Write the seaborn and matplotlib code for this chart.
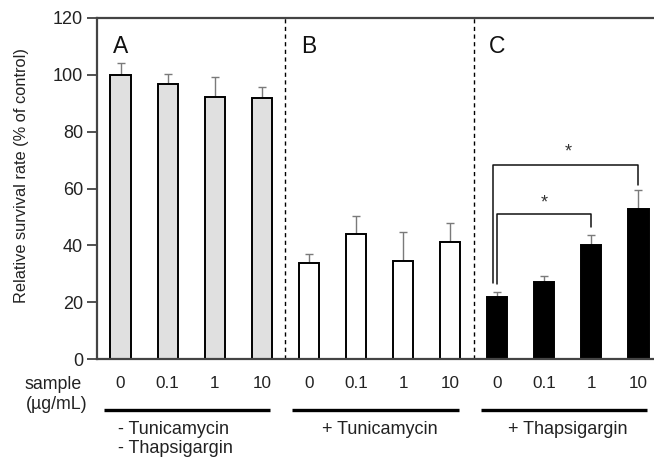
import pandas as pd
import numpy as np
import matplotlib
matplotlib.use("Agg")
import matplotlib.pyplot as plt
import seaborn as sns

# values
doses = ["0", "0.1", "1", "10"]
groups = ["A", "B", "C"]
group_labels = ["- Tunicamycin\n- Thapsigargin", "+ Tunicamycin", "+ Thapsigargin"]
means_a = [100.0, 96.6, 92.3, 91.8]
means_b = [33.7, 44.0, 34.5, 41.3]
means_c = [21.9, 27.2, 40.2, 52.7]
err_a = [4.0, 3.7, 6.9, 4.0]
err_b = [3.3, 6.3, 10.1, 6.7]
err_c = [1.8, 2.0, 3.4, 6.9]
fills = {"A": "#e0e0e0", "B": "white", "C": "black"}

df = pd.DataFrame({
    "id": [f"{g}{d}" for g in groups for d in doses],
    "group": [g for g in groups for _ in doses],
    "dose": doses * 3,
    "mean": means_a + means_b + means_c,
    "err": err_a + err_b + err_c,
})
df["pos"] = np.arange(len(df))

sns.set_style("white")
plt.rcParams["font.family"] = ["Liberation Sans", "DejaVu Sans"]
txt = "#222222"

fig = plt.figure(figsize=(6.54, 4.59), dpi=100)
ax = fig.add_axes([97 / 654, 100 / 459, 565 / 654, 341 / 459])

ax.errorbar(df["pos"], df["mean"], yerr=[np.zeros(len(df)), df["err"]],
            fmt="none", ecolor="#7a7a7a", elinewidth=1.0, capsize=3, capthick=1.0, zorder=0.5)
sns.barplot(data=df, x="id", y="mean", hue="group", palette=fills, dodge=False,
            width=0.43, edgecolor="black", linewidth=1.4, legend=False, ax=ax, zorder=2)

ax.set_xlim(-0.5, 11.5)
ax.set_ylim(0, 120)
ax.set_yticks(range(0, 121, 20))
ax.tick_params(axis="y", direction="out", length=7, width=1.2, color="#333333",
               labelsize=13, labelcolor=txt, left=True, pad=3)
ax.set_xticks([])
ax.set_xlabel("")
ax.set_ylabel("Relative survival rate (% of control)", fontsize=11.8, color=txt)
ax.yaxis.set_label_coords(-0.12, 0.537)
for side in ["left", "bottom", "top"]:
    ax.spines[side].set_color("#444444")
    ax.spines[side].set_linewidth(1.6)
ax.spines["right"].set_visible(False)

# group separators and panel letters
for xs in [3.5, 7.5]:
    ax.axvline(xs, color="black", linestyle=(0, (3, 2.5)), linewidth=1.0)
for i, g in enumerate(groups):
    ax.text(i * 4 - 0.17, 114, g, fontsize=16.5, ha="left", va="top", color="#111111")

# x labels below axis
tr = ax.get_xaxis_transform()
for p, d in zip(df["pos"], df["dose"]):
    ax.text(p, -0.073, d, transform=tr, ha="center", va="center", fontsize=12.3, color=txt,
            clip_on=False)
ax.text(-0.078, -0.076, "sample", transform=ax.transAxes, ha="center", va="center",
        fontsize=12.8, color=txt)
ax.text(-0.071, -0.133, "(\u00b5g/mL)", transform=ax.transAxes, ha="center", va="center",
        fontsize=12.8, color=txt)
for i, lab in enumerate(group_labels):
    x0 = i * 4 - 0.35
    ax.plot([x0, x0 + 3.53], [-0.15, -0.15], transform=tr, color="black", linewidth=2.4,
            clip_on=False, solid_capstyle="butt")
    if i == 0:
        ax.text(-0.06, -0.208, "- Tunicamycin", transform=tr, ha="left", va="center",
                fontsize=13, color=txt)
        ax.text(-0.06, -0.263, "- Thapsigargin", transform=tr, ha="left", va="center",
                fontsize=13, color=txt)
    else:
        ax.text(i * 4 + 1.5, -0.208, lab, transform=tr, ha="center", va="center",
                fontsize=13, color=txt)

# significance brackets in panel C
ax.plot([8.0, 8.0, 10.0, 10.0], [26.4, 51.0, 51.0, 46.4], color="#111111", linewidth=1.1)
ax.text(9.0, 55.0, "*", ha="center", va="center", fontsize=13, color="#333333")
ax.plot([7.92, 7.92, 11.0, 11.0], [26.7, 68.3, 68.3, 61.2], color="#111111", linewidth=1.1)
ax.text(9.5, 73.0, "*", ha="center", va="center", fontsize=13, color="#333333")

fig.savefig("out.png", dpi=100)
